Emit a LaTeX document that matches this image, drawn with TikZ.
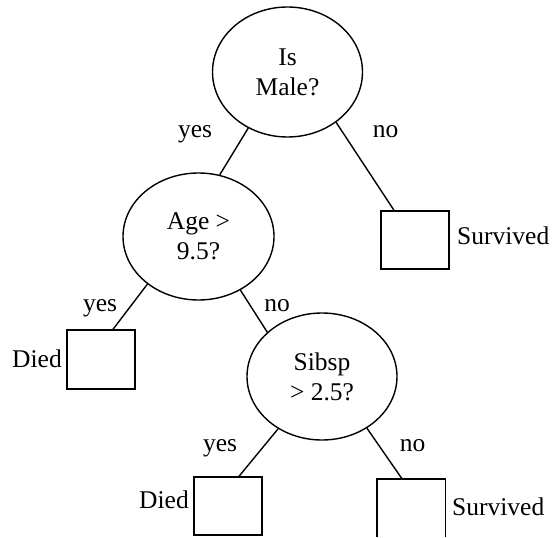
\documentclass[tikz,border=0pt]{standalone}
\usepackage{fontspec}
\setmainfont{Liberation Serif}
\usetikzlibrary{shapes.geometric,calc}
\begin{document}
\begin{tikzpicture}[x=1pt,y=-1pt,
  every node/.style={font=\fontsize{25.5}{30}\selectfont},
  test/.style={ellipse,draw,line width=1.4pt,inner sep=0pt,align=center},
  leaf/.style={rectangle,draw,line width=1.4pt,inner sep=0pt,minimum width=68pt,minimum height=58pt},
  openleaf/.style={rectangle,inner sep=0pt,minimum width=68pt,minimum height=58pt},
  edge/.style={line width=1.4pt},
  lbl/.style={inner sep=0pt,anchor=base}]
\useasboundingbox (0,0) rectangle (553,537);
% decision nodes
\node[test,minimum width=150pt,minimum height=130pt] (root) at (287.5,72) {Is\\Male?};
\node[test,minimum width=151pt,minimum height=127pt] (age) at (198.5,236.5) {Age \textgreater\\9.5?};
\node[test,minimum width=150pt,minimum height=127pt] (sib) at (322,376.5) {Sibsp\\\textgreater{} 2.5?};
% leaves
\node[leaf] (s1) at (415,240) {};
\node[leaf,minimum height=59pt] (d1) at (101,359.5) {};
\node[leaf] (d2) at (228,506) {};
\node[openleaf] (s2) at (411,508) {};
\draw[edge] (s2.south west) -- (s2.north west) -- (s2.north east) -- (s2.south east);
% edges
\draw[edge] (root.235) -- (age.71);
\draw[edge] (root.314) -- ([xshift=-21pt]s1.north);
\draw[edge] (age.223) -- ([xshift=12pt]d1.north);
\draw[edge] (age.308) -- (sib.141);
\draw[edge] (sib.230) -- ([xshift=11pt]d2.north);
\draw[edge] (sib.311) -- ([xshift=-9pt]s2.north);
% labels
\node[lbl] (yes1) at (195,138) {yes};
\node[lbl] (no1) at (385.5,138) {no};
\node[lbl] (yes2) at (100,311) {yes};
\node[lbl] (no2) at (277,311) {no};
\node[lbl] (yes3) at (220,451) {yes};
\node[lbl] (no3) at (412.5,451) {no};
\node[lbl,anchor=base west] (sv1) at (457,244) {Survived};
\node[lbl,anchor=base east] (dd1) at (62,367) {Died};
\node[lbl,anchor=base east] (dd2) at (189,508) {Died};
\node[lbl,anchor=base west] (sv2) at (452,515) {Survived};
\end{tikzpicture}
\end{document}
